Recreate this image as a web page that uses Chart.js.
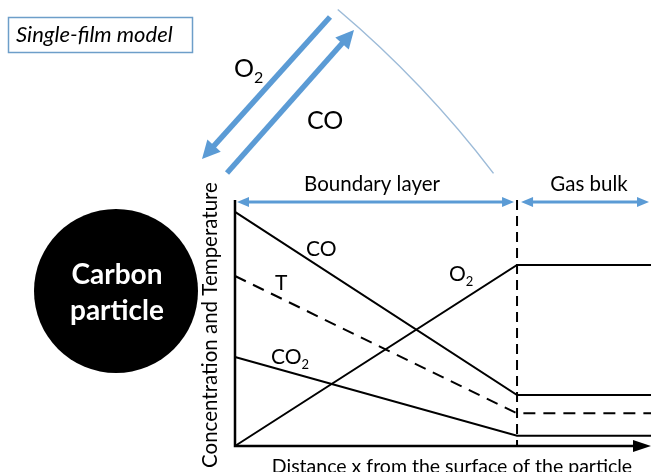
<!DOCTYPE html>
<html>
<head>
<meta charset="utf-8">
<script src="https://cdn.jsdelivr.net/npm/chart.js@4.4.1/dist/chart.umd.min.js"></script>
<style>
  html, body { margin: 0; padding: 0; background: #fff; }
  #wrap { width: 651px; height: 472px; position: relative; }
</style>
</head>
<body>
<div id="wrap"><canvas id="film"></canvas></div>
<script>
// x: 0 = particle surface, 1 = edge of boundary layer, past 1 = gas bulk
const xStops = [0, 1, 1.475];
const coValues = [0.952, 0.207, 0.207];
const tValues = [0.691, 0.133, 0.133];
const co2Values = [0.362, 0.042, 0.042];
const o2Values = [0, 0.736, 0.736];

const FONT = "Lato, 'Open Sans', sans-serif";
const BLUE = "#5b9bd5";

function pts(values) {
  return values.map((v, i) => ({ x: xStops[i], y: v }));
}

function arrowHead(ctx, x1, y1, x2, y2, len, half) {
  const a = Math.atan2(y2 - y1, x2 - x1);
  ctx.beginPath();
  ctx.moveTo(x2, y2);
  ctx.lineTo(x2 - len * Math.cos(a) + half * Math.sin(a), y2 - len * Math.sin(a) - half * Math.cos(a));
  ctx.lineTo(x2 - len * Math.cos(a) - half * Math.sin(a), y2 - len * Math.sin(a) + half * Math.cos(a));
  ctx.closePath();
  ctx.fill();
}

function arrow(ctx, x1, y1, x2, y2, width, len, half, both) {
  const a = Math.atan2(y2 - y1, x2 - x1);
  ctx.lineWidth = width;
  ctx.beginPath();
  ctx.moveTo(both ? x1 + len * 0.8 * Math.cos(a) : x1, both ? y1 + len * 0.8 * Math.sin(a) : y1);
  ctx.lineTo(x2 - len * 0.8 * Math.cos(a), y2 - len * 0.8 * Math.sin(a));
  ctx.stroke();
  arrowHead(ctx, x1, y1, x2, y2, len, half);
  if (both) arrowHead(ctx, x2, y2, x1, y1, len, half);
}

// text with a subscript
function subText(ctx, main, sub, x, y, size) {
  ctx.font = size + "px " + FONT;
  ctx.textAlign = "left";
  ctx.fillText(main, x, y);
  const w = ctx.measureText(main).width;
  ctx.font = Math.round(size * 0.62) + "px " + FONT;
  ctx.fillText(sub, x + w, y + size * 0.22);
}

const decor = {
  id: "decor",
  afterDatasetsDraw(chart) {
    const { ctx, scales: { x, y } } = chart;
    const x0 = x.getPixelForValue(0), x1 = x.getPixelForValue(1), xEnd = x.getPixelForValue(xStops[2]);
    const y0 = y.getPixelForValue(0), yTop = y.getPixelForValue(1);
    ctx.save();
    ctx.strokeStyle = "#000";
    ctx.fillStyle = "#000";
    // axes
    ctx.lineWidth = 2.5;
    ctx.beginPath();
    ctx.moveTo(x0, yTop);
    ctx.lineTo(x0, y0);
    ctx.lineTo(xEnd - 14, y0);
    ctx.stroke();
    arrowHead(ctx, x0, y0, xEnd, y0, 18, 6);
    // boundary between film and bulk
    ctx.lineWidth = 2;
    ctx.setLineDash([10, 6]);
    ctx.beginPath();
    ctx.moveTo(x1, yTop);
    ctx.lineTo(x1, y0);
    ctx.stroke();
    ctx.setLineDash([]);

    // region arrows
    ctx.strokeStyle = BLUE;
    ctx.fillStyle = BLUE;
    arrow(ctx, x0 + 2, yTop + 2, x1 - 3, yTop + 2, 3, 12, 5, true);
    arrow(ctx, x1 + 4, yTop + 2, xEnd - 2, yTop + 2, 3, 12, 5, true);

    // labels on curves
    ctx.fillStyle = "#000";
    ctx.textBaseline = "alphabetic";
    ctx.font = "21px " + FONT;
    ctx.textAlign = "left";
    ctx.fillText("CO", 306, 256);
    ctx.fillText("T", 275, 290);
    subText(ctx, "O", "2", 449, 281, 21);
    subText(ctx, "CO", "2", 271, 364, 21);

    ctx.font = "20.5px " + FONT;
    ctx.textAlign = "center";
    ctx.fillText("Boundary layer", 372, 191);
    ctx.fillText("Gas bulk", 589, 191);
    ctx.save();
    ctx.translate(217, 325);
    ctx.rotate(-Math.PI / 2);
    ctx.fillText("Concentration and Temperature", 0, 0);
    ctx.restore();
    ctx.font = "19.5px " + FONT;
    ctx.fillText("Distance x from the surface of the particle", 452, 473);

    // carbon particle
    ctx.beginPath();
    ctx.arc(116, 291, 82, 0, Math.PI * 2);
    ctx.fillStyle = "#000";
    ctx.fill();
    ctx.fillStyle = "#fff";
    ctx.font = "bold 28px " + FONT;
    ctx.fillText("Carbon", 117, 284);
    ctx.fillText("particle", 117, 320);

    // diffusion arrows and film edge
    ctx.strokeStyle = BLUE;
    ctx.fillStyle = BLUE;
    arrow(ctx, 330, 17, 202, 159, 5.5, 18, 9, false);
    arrow(ctx, 227, 173, 354, 30, 5.5, 18, 9, false);
    ctx.strokeStyle = "#9dbbd8";
    ctx.lineWidth = 1.5;
    ctx.beginPath();
    ctx.arc(-333, 803, 1039, -0.869, -0.651);
    ctx.stroke();

    ctx.fillStyle = "#000";
    ctx.textAlign = "left";
    subText(ctx, "O", "2", 234, 77, 25);
    ctx.font = "25px " + FONT;
    ctx.fillText("CO", 307, 129);

    // title box
    ctx.strokeStyle = "#6d9ec9";
    ctx.lineWidth = 1.5;
    ctx.strokeRect(8.5, 17.5, 184, 35);
    ctx.font = "italic 22px " + FONT;
    ctx.fillStyle = "#000";
    ctx.fillText("Single-film model", 16, 42);
    ctx.restore();
  }
};

const lineStyle = { borderColor: "#000", borderWidth: 2, pointRadius: 0, fill: false, tension: 0 };

new Chart(document.getElementById("film"), {
  type: "line",
  data: {
    datasets: [
      { label: "CO", data: pts(coValues), ...lineStyle },
      { label: "T", data: pts(tValues), ...lineStyle, borderDash: [12, 8] },
      { label: "CO2", data: pts(co2Values), ...lineStyle },
      { label: "O2", data: pts(o2Values), ...lineStyle }
    ]
  },
  options: {
    responsive: true,
    maintainAspectRatio: false,
    animation: false,
    layout: { padding: { left: 235, top: 200, right: 0, bottom: 26 } },
    clip: false,
    plugins: { legend: { display: false }, tooltip: { enabled: false } },
    scales: {
      x: { type: "linear", min: 0, max: xStops[2], display: false },
      y: { type: "linear", min: 0, max: 1, display: false }
    }
  },
  plugins: [decor]
});
</script>
</body>
</html>
